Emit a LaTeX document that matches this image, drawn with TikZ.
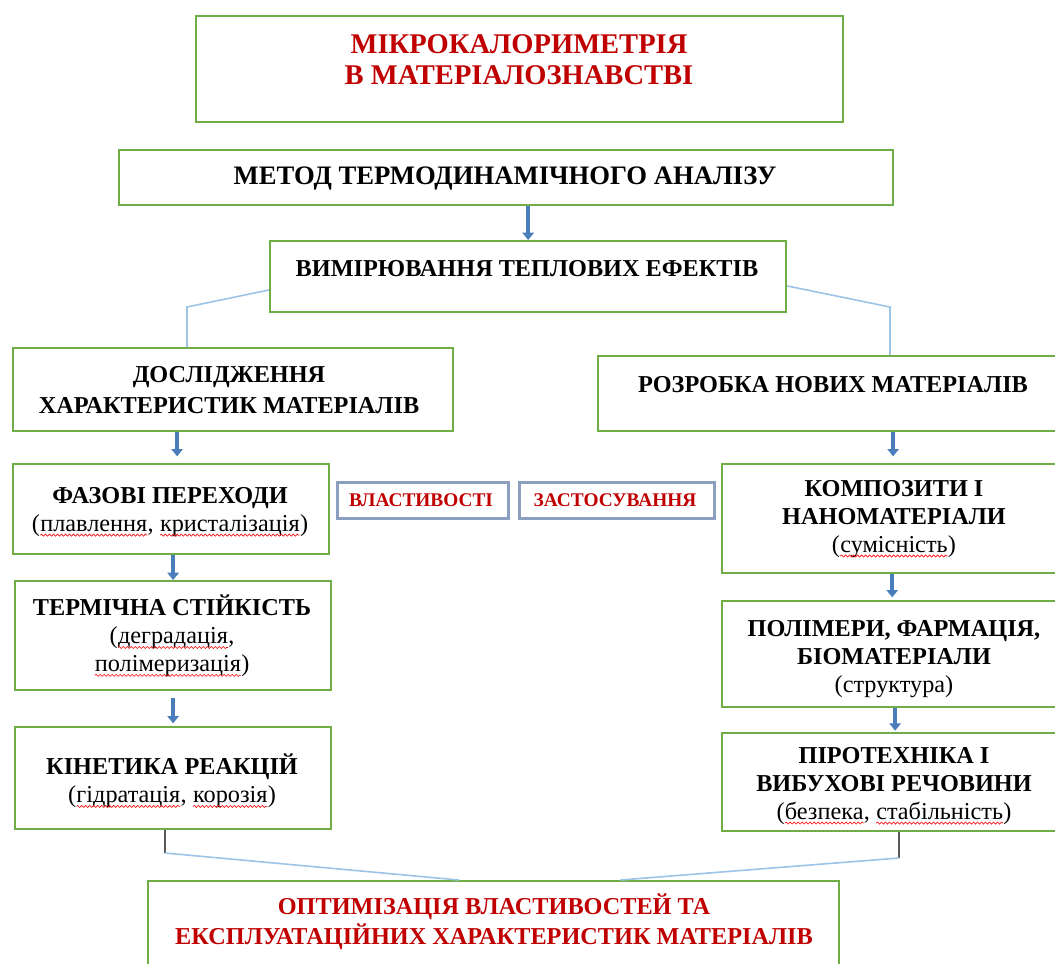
\documentclass[tikz,border=0pt]{standalone}
\usepackage{fontspec}
\setmainfont{Liberation Serif}
\usetikzlibrary{arrows.meta,decorations.pathmorphing}
\definecolor{gframe}{HTML}{70AD47}
\definecolor{sframe}{HTML}{8C9FBE}
\definecolor{dred}{HTML}{C00000}
\definecolor{barrowc}{HTML}{4A7EBB}
\definecolor{lconn}{HTML}{9DC3E6}
\definecolor{dconn}{HTML}{595959}
\definecolor{wavec}{HTML}{FF0000}
\newcommand\spellerr[1]{\tikz[baseline=(w.base)]{\node[inner sep=0pt, outer sep=0pt, anchor=base] (w) {#1};
  \draw[wavec, line width=0.45pt, decorate, decoration={snake, amplitude=0.8pt, segment length=3pt}] ([yshift=-2.8pt]w.base west) -- ([yshift=-2.8pt]w.base east);}}
\begin{document}
\begin{tikzpicture}[x=0.75pt,y=-0.75pt,
  bx/.style 2 args={minimum width=#1*0.75pt, minimum height=#2*0.75pt},
  gbox/.style={draw=gframe, line width=1.7pt, anchor=north west, inner sep=0pt},
  sbox/.style={draw=sframe, line width=1.9pt, anchor=north west, inner sep=0pt},
  txt/.style={align=center, inner sep=0pt, font=\fontsize{18.2}{20.9}\selectfont},
  big/.style={align=center, inner sep=0pt, font=\fontsize{21.4}{23.5}\selectfont\bfseries, text=dred},
  barrow/.style={line width=3.1pt, draw=barrowc, -{Triangle[width=8.5pt,length=5.5pt]}},
  lcon/.style={draw=lconn, line width=1.2pt},
  dcon/.style={draw=dconn, line width=0.8pt}]
\useasboundingbox (0,0) rectangle (1055,963);
\clip (0,0) rectangle (1055,963);

% boxes
\node[gbox, bx={647}{106}] (b1) at (195,15) {};
\node[gbox, bx={774}{55}] (b2) at (118,149) {};
\node[gbox, bx={516}{71}] (b4) at (269,240) {};
\node[gbox, bx={440}{83}] (b5) at (12,347) {};
\node[gbox, bx={472}{75}] (b6) at (597,355) {};
\node[gbox, bx={316}{90}] (b8) at (12,463) {};
\node[gbox, bx={316}{109}] (b10) at (14,580) {};
\node[gbox, bx={316}{102}] (b12) at (14,726) {};
\node[sbox, bx={171}{36}] (b13) at (336,481) {};
\node[sbox, bx={195}{36}] (b14) at (518,481) {};
\node[gbox, bx={346}{109}] (b16) at (721,463) {};
\node[gbox, bx={346}{106}] (b18) at (721,600) {};
\node[gbox, bx={346}{98}] (b20) at (721,732) {};
\node[gbox, bx={691}{100}] (b21) at (147,880) {};

% texts
\node[big] (t1) at (519,60) {МІКРОКАЛОРИМЕТРІЯ\\ В МАТЕРІАЛОЗНАВСТВІ};
\node[txt, font=\fontsize{20}{23}\selectfont\bfseries] (t2) at (505,179) {МЕТОД ТЕРМОДИНАМІЧНОГО АНАЛІЗУ};
\node[txt, font=\fontsize{18.2}{20.9}\selectfont\bfseries] (t4) at (527,269) {ВИМІРЮВАННЯ ТЕПЛОВИХ ЕФЕКТІВ};
\node[txt, font=\fontsize{18.2}{23}\selectfont\bfseries] (t5) at (229,390) {ДОСЛІДЖЕННЯ\\ ХАРАКТЕРИСТИК МАТЕРІАЛІВ};
\node[txt, font=\fontsize{18.2}{20.9}\selectfont\bfseries] (t6) at (833,385) {РОЗРОБКА НОВИХ МАТЕРІАЛІВ};
\node[txt] (t8) at (170,512) {\textbf{ФАЗОВІ ПЕРЕХОДИ}\\ (\spellerr{плавлення}, \spellerr{кристалізація})};
\node[txt] (t10) at (172,636) {\textbf{ТЕРМІЧНА СТІЙКІСТЬ}\\ (\spellerr{деградація},\\ \spellerr{полімеризація})};
\node[txt] (t12) at (172,781) {\textbf{КІНЕТИКА РЕАКЦІЙ}\\ (\spellerr{гідратація}, \spellerr{корозія})};
\node[txt, font=\fontsize{14.5}{17}\selectfont\bfseries, text=dred] (t13) at (421,500) {ВЛАСТИВОСТІ};
\node[txt, font=\fontsize{14.5}{17}\selectfont\bfseries, text=dred] (t14) at (615,500) {ЗАСТОСУВАННЯ};
\node[txt] (t16) at (894,519) {\textbf{КОМПОЗИТИ І}\\ \textbf{НАНОМАТЕРІАЛИ}\\ (\spellerr{сумісність})};
\node[txt] (t18) at (894,659) {\textbf{ПОЛІМЕРИ, ФАРМАЦІЯ,}\\ \textbf{БІОМАТЕРІАЛИ}\\ (структура)};
\node[txt] (t20) at (894,786) {\textbf{ПІРОТЕХНІКА І}\\ \textbf{ВИБУХОВІ РЕЧОВИНИ}\\ (\spellerr{безпека}, \spellerr{стабільність})};
\node[txt, font=\fontsize{18.2}{22.5}\selectfont\bfseries, text=dred] (t21) at (494,922) {ОПТИМІЗАЦІЯ ВЛАСТИВОСТЕЙ ТА\\ ЕКСПЛУАТАЦІЙНИХ ХАРАКТЕРИСТИК МАТЕРІАЛІВ};

% block arrows
\draw[barrow] (b2.south -| b4.north) -- (b4.north);
\draw[barrow] ([xshift=4.5pt]b8.north |- b5.south) -- ([xshift=4.5pt,yshift=5pt]b8.north);
\draw[barrow] (b8.south -| b10.north) -- (b10.north);
\draw[barrow, shorten <=5pt, shorten >=2pt] (b10.south -| b12.north) -- (b12.north);
\draw[barrow] ([xshift=-1.5pt]b16.north |- b6.south) -- ([xshift=-1.5pt,yshift=5pt]b16.north);
\draw[barrow] ([xshift=-2.2pt]b16.south) -- ([xshift=-2.2pt,yshift=2pt]b18.north);
\draw[barrow] (b18.south) -- ([yshift=1pt]b20.north);

% thin connectors
\coordinate (k1) at (187,307);
\coordinate (k2) at (890,307);
\draw[lcon] ([yshift=-10pt]b4.west) -- (k1) -- (k1 |- b5.north);
\draw[lcon] ([yshift=-7pt]b4.east) -- (k2) -- (k2 |- b6.north);
\coordinate (k3) at (165,853);
\coordinate (k4) at (899,858);
\draw[dcon] (k3 |- b12.south) -- (k3);
\draw[dcon] (k4 |- b20.south) -- (k4);
\draw[lcon] (k3) -- ([xshift=-26pt]b21.north);
\draw[lcon] (k4) -- ([xshift=95pt]b21.north);
\end{tikzpicture}
\end{document}
